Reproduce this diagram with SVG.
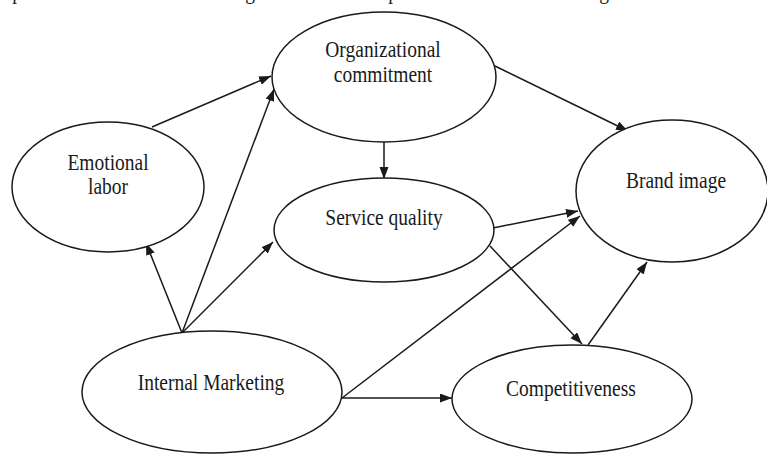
<svg xmlns="http://www.w3.org/2000/svg" width="767" height="454" viewBox="0 0 767 454">
  <style>
    .node { fill: #ffffff; stroke: #1a1a1a; stroke-width: 1.5; }
    .edge { stroke: #1a1a1a; stroke-width: 1.5; fill: none; marker-end: url(#arrow); }
    .label { font-family: "Liberation Serif", "Times New Roman", serif; font-size: 19.5px; fill: #1a1a1a; text-anchor: middle; }
  </style>
  <defs>
    <marker id="arrow" markerUnits="userSpaceOnUse" markerWidth="13" markerHeight="10" refX="12" refY="4.5" orient="auto">
      <path d="M0,0 L12,4.5 L0,9 z" fill="#1a1a1a"/>
    </marker>
  </defs>

  <rect width="767" height="454" fill="#ffffff"/>

  <!-- descenders of the caption line above, cut off by the top edge -->
  <g id="caption-tail" class="label">
    <text transform="translate(17,-1) scale(1,1.2)">p</text>
    <text transform="translate(250,-1) scale(1,1.2)">g</text>
    <text transform="translate(393,-1) scale(1,1.2)">p</text>
    <text transform="translate(604,-1) scale(1,1.2)">g</text>
  </g>

  <g id="connectors">
    <line class="edge" x1="152" y1="127" x2="271" y2="76"/>
    <line class="edge" x1="182" y1="333" x2="274" y2="89"/>
    <line class="edge" x1="182" y1="333" x2="146" y2="243"/>
    <line class="edge" x1="182" y1="333" x2="273" y2="242"/>
    <line class="edge" x1="384" y1="142" x2="384" y2="179"/>
    <line class="edge" x1="495" y1="66" x2="628" y2="131"/>
    <line class="edge" x1="493" y1="228" x2="578" y2="211"/>
    <line class="edge" x1="342" y1="398" x2="580" y2="216"/>
    <line class="edge" x1="342" y1="398" x2="452" y2="398"/>
    <line class="edge" x1="490" y1="246" x2="582" y2="344"/>
    <line class="edge" x1="588" y1="345" x2="647" y2="262"/>
  </g>

  <g id="organizational-commitment">
    <ellipse class="node" cx="384" cy="77" rx="112" ry="65"/>
    <text class="label" transform="translate(383,57) scale(1,1.2)">Organizational</text>
    <text class="label" transform="translate(383,82) scale(1,1.2)">commitment</text>
  </g>

  <g id="emotional-labor">
    <ellipse class="node" cx="108" cy="187" rx="96" ry="65"/>
    <text class="label" transform="translate(108,170) scale(1,1.2)">Emotional</text>
    <text class="label" transform="translate(108,194) scale(1,1.2)">labor</text>
  </g>

  <g id="service-quality">
    <ellipse class="node" cx="384" cy="230" rx="110" ry="52"/>
    <text class="label" transform="translate(384,225) scale(1,1.2)">Service quality</text>
  </g>

  <g id="brand-image">
    <ellipse class="node" cx="672" cy="191" rx="96" ry="71"/>
    <text class="label" transform="translate(676,188) scale(1,1.2)">Brand image</text>
  </g>

  <g id="internal-marketing">
    <ellipse class="node" cx="212" cy="392" rx="130" ry="61"/>
    <text class="label" transform="translate(211,390) scale(1,1.2)">Internal Marketing</text>
  </g>

  <g id="competitiveness">
    <ellipse class="node" cx="572" cy="399" rx="120" ry="54"/>
    <text class="label" transform="translate(571,396) scale(1,1.2)">Competitiveness</text>
  </g>
</svg>
